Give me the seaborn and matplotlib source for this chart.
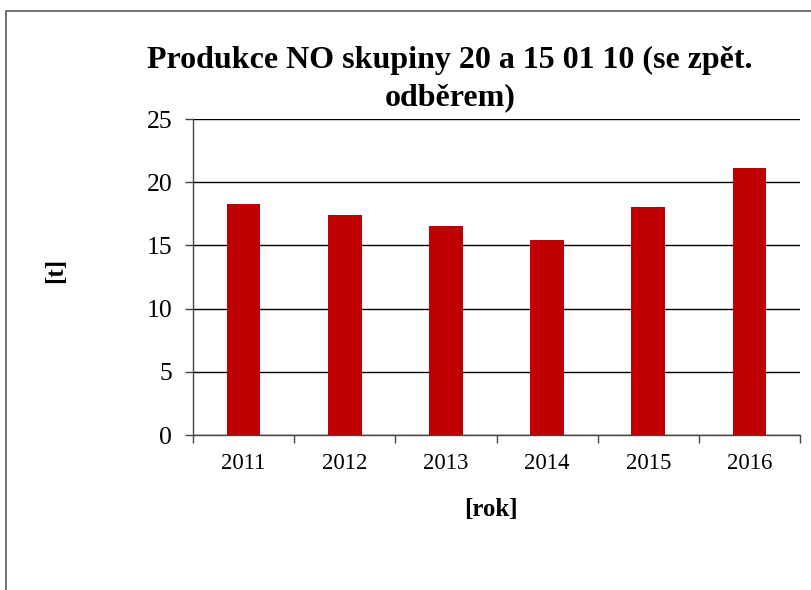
import pandas as pd
import seaborn as sns
import matplotlib.pyplot as plt
from matplotlib.lines import Line2D

years = ['2011', '2012', '2013', '2014', '2015', '2016']
tonnes = [18.26, 17.37, 16.5, 15.4, 18.03, 21.13]

df = pd.DataFrame({'rok': years, 't': tonnes})

sns.set_style('white')
plt.rcParams['font.family'] = ['Liberation Serif', 'DejaVu Serif']
plt.rcParams['text.color'] = 'black'
plt.rcParams['xtick.color'] = 'black'
plt.rcParams['ytick.color'] = 'black'

fig = plt.figure(figsize=(8.11, 5.90), dpi=100)
ax = fig.add_axes([0.238, 0.2627, 0.7486, 0.5356])

sns.barplot(data=df, x='rok', y='t', color='#C00000', width=1/3,
            saturation=1, edgecolor='none', ax=ax)

ax.set_ylim(0, 25)
ax.set_xlim(-0.5, len(years) - 0.5)
ax.set_yticks(range(0, 26, 5))
ax.yaxis.grid(True, color='black', lw=1)
ax.set_axisbelow(True)

# category boundaries get the tick marks, centres get the labels
ax.set_xticks([i - 0.5 for i in range(len(years) + 1)])
ax.set_xticklabels([])
ax.set_xticks(range(len(years)), minor=True)
ax.set_xticklabels(years, minor=True, fontsize=16.5)
ax.tick_params(axis='x', which='major', length=6, width=1, color='#444444', direction='out')
ax.tick_params(axis='x', which='minor', length=0, pad=13)
ax.tick_params(axis='y', length=6, width=1, color='#444444', direction='out',
               labelsize=18.5, pad=9)
ax.tick_params(bottom=True, left=True)

for s in ['top', 'right']:
    ax.spines[s].set_visible(False)
for s in ['left', 'bottom']:
    ax.spines[s].set_color('#444444')
    ax.spines[s].set_linewidth(1)

ax.set_xlabel('')
ax.set_ylabel('')
fig.text(0.605, 0.137, '[rok]', ha='center', va='center', fontsize=18, fontweight='bold')
fig.text(0.068, 0.542, '[t]', ha='center', va='center', rotation=90,
         fontsize=18, fontweight='bold')
fig.text(0.555, 0.866, 'Produkce NO skupiny 20 a 15 01 10 (se zpět.\nodběrem)',
         ha='center', va='center', fontsize=23, fontweight='bold', linespacing=1.36)

# chart frame (only left and top edges fall inside the picture)
fig.add_artist(Line2D([0.0074, 0.0074, 1.0], [0.0, 0.981, 0.981],
                      transform=fig.transFigure, color='#555555', lw=1.2))

fig.savefig('out.png', dpi=100)
